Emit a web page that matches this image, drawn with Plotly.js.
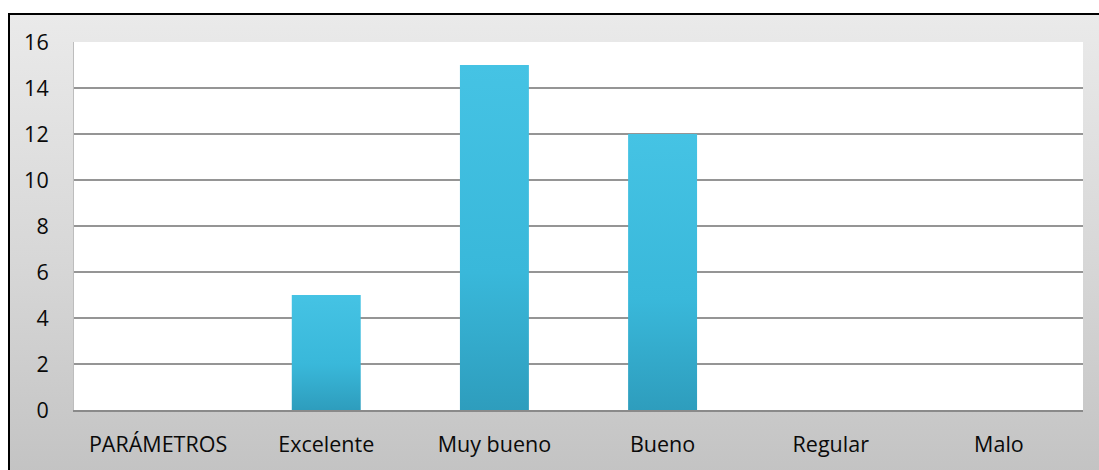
<!DOCTYPE html>
<html>
<head>
<meta charset="utf-8">
<script src="https://cdn.plot.ly/plotly-3.0.1.min.js"></script>
<style>
  html, body { margin: 0; padding: 0; background: #ffffff; width: 1099px; height: 470px; overflow: hidden; }
  #frame { position: absolute; left: 8px; top: 13px; width: 1100px; height: 470px;
           border-left: 2px solid #000; border-top: 2px solid #000;
           background: linear-gradient(to bottom, #eaeaea 0%, #d6d6d6 55%, #c2c2c2 100%); }
  #chart { position: absolute; left: 0; top: 0; width: 1099px; height: 470px; }
</style>
</head>
<body>
<div id="frame"></div>
<div id="chart"></div>
<svg width="0" height="0" style="position:absolute">
  <defs>
    <linearGradient id="barGrad" x1="0" y1="0" x2="0" y2="1">
      <stop offset="0%" stop-color="#45c3e4"/>
      <stop offset="60%" stop-color="#39b8da"/>
      <stop offset="100%" stop-color="#2e9dbd"/>
    </linearGradient>
  </defs>
</svg>
<script>
const categories = ["PARÁMETROS", "Excelente", "Muy bueno", "Bueno", "Regular", "Malo"];
const values = [0, 5, 15, 12, 0, 0];
const yTicks = [0, 2, 4, 6, 8, 10, 12, 14, 16];

const trace = {
  type: "bar",
  x: categories,
  y: values,
  width: 0.41,
  marker: { color: "#37b5d7", line: { color: "#2a8eab", width: 0 } },
  hoverinfo: "none"
};

const layout = {
  width: 1099,
  height: 470,
  margin: { l: 74, r: 16, t: 42, b: 60 },
  paper_bgcolor: "rgba(0,0,0,0)",
  plot_bgcolor: "#ffffff",
  showlegend: false,
  font: { family: "'Open Sans', 'Noto Sans', sans-serif", size: 22, color: "#000" },
  xaxis: {
    type: "category",
    showgrid: false,
    showline: true,
    linecolor: "#8a8a8a",
    linewidth: 2,
    ticks: "",
    ticklabelstandoff: 14,
    tickfont: { size: 21.5, color: "#0a0a0a" }
  },
  yaxis: {
    range: [0, 16],
    tickvals: yTicks,
    ticktext: yTicks.map(String),
    showgrid: true,
    gridcolor: "#959595",
    gridwidth: 1.5,
    zeroline: false,
    showline: true,
    linecolor: "#bdbdbd",
    linewidth: 1,
    ticks: "",
    ticklabelstandoff: 20,
    tickfont: { size: 21.5, color: "#0a0a0a" }
  },
  bargap: 0.59
};

Plotly.newPlot("chart", [trace], layout, { displayModeBar: false, staticPlot: true }).then(function (gd) {
  gd.querySelectorAll(".barlayer .point path").forEach(function (p) {
    p.style.fill = "url(#barGrad)";
  });
});
</script>
</body>
</html>
